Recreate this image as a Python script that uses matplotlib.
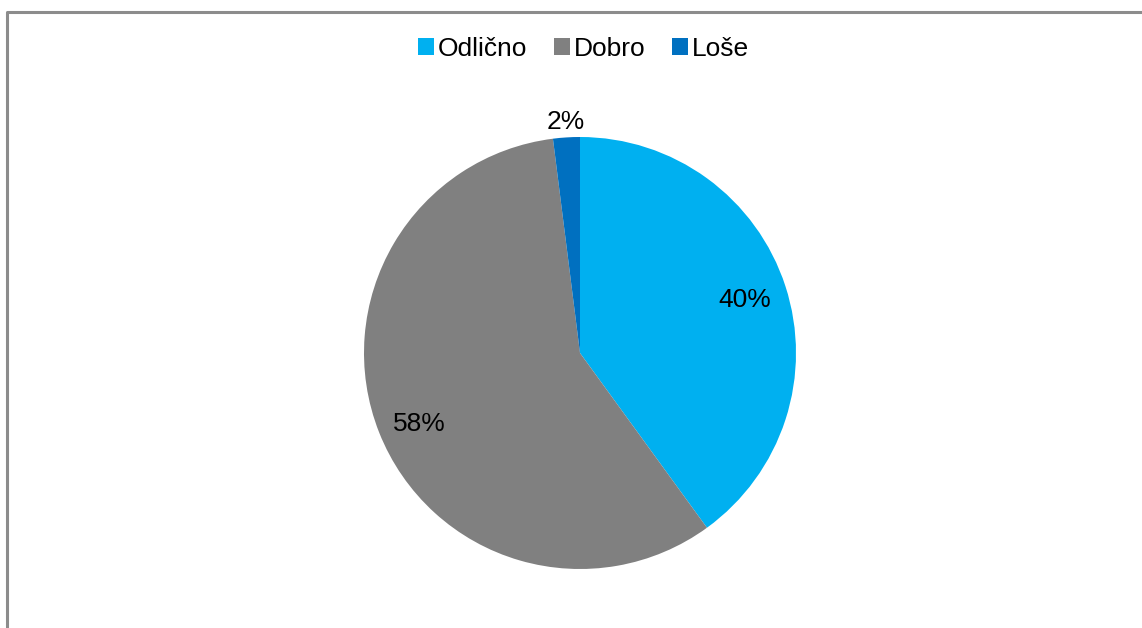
import matplotlib.pyplot as plt
from matplotlib.lines import Line2D

plt.rcParams['font.family'] = ['Liberation Sans', 'DejaVu Sans']

labels = ['Odlično', 'Dobro', 'Loše']
values = [40, 58, 2]
colors = ['#00B0F0', '#808080', '#0070C0']

W, H = 1142, 628
fig = plt.figure(figsize=(W / 100, H / 100), dpi=100)

# frame: only left and top edges fall inside the picture
fx, fy = 7 / W, 1 - 12 / H
fig.lines.append(Line2D([fx, fx, 1.0], [0.0, fy, fy], transform=fig.transFigure,
                        color='#8c8c8c', linewidth=2.2))

cx, cy, r = 580, 353, 216
ax = fig.add_axes([(cx - r) / W, (H - cy - r) / H, 2 * r / W, 2 * r / H])
wedges, texts, autotexts = ax.pie(values, colors=colors, startangle=90,
                                  counterclock=False, radius=1,
                                  autopct='%d%%', pctdistance=0.8,
                                  textprops={'fontsize': 19, 'color': 'black'})
# nudge labels to where the original puts them
x, y = autotexts[1].get_position()
autotexts[1].set_position((x, y - 0.035))
x, y = autotexts[2].get_position()
autotexts[2].set_position((x * 1.34, y * 1.34))
ax.set_xlim(-1, 1)
ax.set_ylim(-1, 1)

fig.legend(wedges, labels, loc='center', bbox_to_anchor=(0.511, 1 - 49 / H),
           ncol=3, frameon=False, fontsize=19, handlelength=0.6,
           handleheight=0.6, handletextpad=0.15, columnspacing=1.0)

fig.savefig('out.png', dpi=100)
